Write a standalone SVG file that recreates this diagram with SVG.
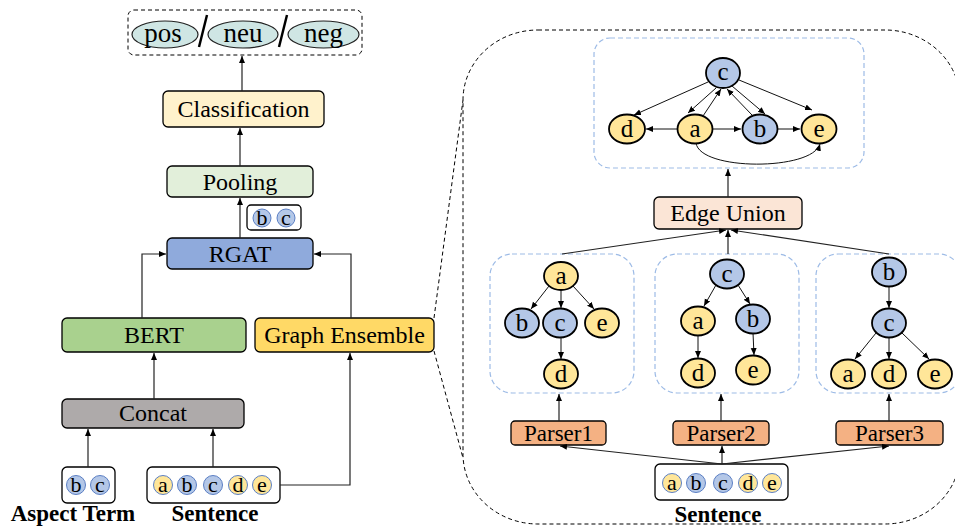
<svg xmlns="http://www.w3.org/2000/svg" width="955" height="528" viewBox="0 0 955 528">
<defs>
<marker id="ah" markerUnits="userSpaceOnUse" markerWidth="8" markerHeight="7" refX="7" refY="3" orient="auto">
<path d="M0,0 L7,3 L0,6 z" fill="#000"/>
</marker>
<style>
text{font-family:"Liberation Serif","Times New Roman",serif;fill:#000;text-anchor:middle}
.t24{font-size:24px}
.t25{font-size:25px}
.t27{font-size:27px}
.t23{font-size:23px}
.t22{font-size:22px}
.lab{font-size:23px;font-weight:bold}
.box{stroke:#000;stroke-width:1.3}
.nodeY{fill:#ffe699;stroke:#000;stroke-width:1.8}
.nodeB{fill:#b4c7e7;stroke:#000;stroke-width:1.8}
.tokY{fill:#ffe699;stroke:#5b7fc4;stroke-width:1}
.tokB{fill:#b4c7e7;stroke:#5b7fc4;stroke-width:1}
.cont{fill:none;stroke:#9dbbe6;stroke-width:1.2;stroke-dasharray:5,3}
.conn{fill:none;stroke:#222;stroke-width:1.2;marker-end:url(#ah)}
.edge{fill:none;stroke:#111;stroke-width:1;marker-end:url(#ah)}
.dash{fill:none;stroke:#000;stroke-width:1;stroke-dasharray:4,3}
</style>
</defs>

<!-- large zoom region -->
<rect x="463" y="30" width="497" height="494" rx="75" ry="70" class="dash"/>
<line x1="434" y1="318" x2="463" y2="100" class="dash"/>
<line x1="434" y1="351" x2="463" y2="458" class="dash"/>

<g id="output">
<rect x="128" y="10" width="234" height="45" rx="6" class="dash"/>
<ellipse cx="165" cy="34.5" rx="33" ry="13.5" fill="#cfe6e4" stroke="#222" stroke-width="1.2"/>
<ellipse cx="243" cy="34.5" rx="35" ry="13.5" fill="#cfe6e4" stroke="#222" stroke-width="1.2"/>
<ellipse cx="323.5" cy="34.5" rx="35.5" ry="13.5" fill="#cfe6e4" stroke="#222" stroke-width="1.2"/>
<line x1="199" y1="47" x2="207" y2="15" stroke="#000" stroke-width="2.5"/>
<line x1="279" y1="47" x2="287" y2="15" stroke="#000" stroke-width="2.5"/>
<text x="163" y="42" class="t27">pos</text>
<text x="243" y="42" class="t27">neu</text>
<text x="323.5" y="42" class="t27">neg</text>
</g>

<g id="classification">
<rect x="163" y="91" width="161" height="36" rx="5" fill="#fff2cc" class="box"/>
<text x="243.5" y="117" class="t24">Classification</text>
</g>
<g id="pooling">
<rect x="167" y="166" width="146" height="31" rx="5" fill="#e2efda" class="box"/>
<text x="240" y="190" class="t24">Pooling</text>
</g>
<g id="aspect-feat">
<rect x="247" y="205" width="54" height="25" rx="4" fill="#fff" class="box"/>
<circle cx="262" cy="218" r="9" class="tokB"/>
<circle cx="286" cy="218" r="9" class="tokB"/>
<text x="262" y="225" class="t22">b</text>
<text x="286" y="225" class="t22">c</text>
</g>
<g id="rgat">
<rect x="167" y="238" width="146" height="31" rx="5" fill="#8faadc" class="box"/>
<text x="240" y="262" class="t24">RGAT</text>
</g>
<g id="bert">
<rect x="62" y="318" width="184" height="34" rx="5" fill="#a9d18e" class="box"/>
<text x="154" y="343" class="t24">BERT</text>
</g>
<g id="graph-ensemble">
<rect x="255" y="318" width="179" height="34" rx="5" fill="#ffd966" class="box"/>
<text x="344.5" y="343" class="t24">Graph Ensemble</text>
</g>
<g id="concat">
<rect x="62" y="399" width="182" height="29" rx="5" fill="#aeaaaa" class="box"/>
<text x="153" y="421" class="t24">Concat</text>
</g>
<g id="aspect-term">
<rect x="62" y="467" width="53" height="36" rx="5" fill="#fff" class="box"/>
<circle cx="76" cy="485" r="9.5" class="tokB"/>
<circle cx="100" cy="485" r="9.5" class="tokB"/>
<text x="76" y="492" class="t22">b</text>
<text x="100" y="492" class="t22">c</text>
<text x="73" y="521" class="lab">Aspect Term</text>
</g>
<g id="sentence-left">
<rect x="147" y="467" width="133" height="36" rx="5" fill="#fff" class="box"/>
<circle cx="163" cy="485" r="9.5" class="tokY"/>
<circle cx="187" cy="485" r="9.5" class="tokB"/>
<circle cx="213" cy="485" r="9.5" class="tokB"/>
<circle cx="238" cy="485" r="9.5" class="tokY"/>
<circle cx="262" cy="485" r="9.5" class="tokY"/>
<text x="163" y="492" class="t22">a</text>
<text x="187" y="492" class="t22">b</text>
<text x="213" y="492" class="t22">c</text>
<text x="238" y="492" class="t22">d</text>
<text x="262" y="492" class="t22">e</text>
<text x="215" y="521" class="lab">Sentence</text>
</g>

<!-- right side -->
<g id="union-graph">
<rect x="594" y="38" width="270" height="130" rx="16" class="cont"/>
<ellipse cx="723" cy="73" rx="17" ry="15" class="nodeB"/>
<ellipse cx="627" cy="129" rx="18" ry="14.5" class="nodeY"/>
<ellipse cx="695" cy="129" rx="17.5" ry="14.5" class="nodeY"/>
<ellipse cx="760" cy="129" rx="17.5" ry="14.5" class="nodeB"/>
<ellipse cx="819" cy="129" rx="17.5" ry="14.5" class="nodeY"/>
<text x="723" y="80" class="t25">c</text>
<text x="627" y="137" class="t25">d</text>
<text x="695" y="137" class="t25">a</text>
<text x="760" y="137" class="t25">b</text>
<text x="819" y="137" class="t25">e</text>
</g>
<g id="edge-union">
<rect x="654" y="197" width="148" height="32" rx="5" fill="#fbe5d6" class="box"/>
<text x="728" y="221" class="t24">Edge Union</text>
</g>
<g id="tree1">
<rect x="490" y="254" width="144" height="139" rx="22" class="cont"/>
<ellipse cx="561" cy="276" rx="17" ry="14" class="nodeY"/>
<ellipse cx="522" cy="323" rx="17" ry="14.5" class="nodeB"/>
<ellipse cx="560" cy="323" rx="17" ry="14.5" class="nodeB"/>
<ellipse cx="602" cy="323" rx="17" ry="14.5" class="nodeY"/>
<ellipse cx="561" cy="374" rx="17" ry="14.5" class="nodeY"/>
<text x="561" y="284" class="t25">a</text>
<text x="522" y="331" class="t25">b</text>
<text x="560" y="331" class="t25">c</text>
<text x="602" y="331" class="t25">e</text>
<text x="561" y="382" class="t25">d</text>
</g>
<g id="tree2">
<rect x="655" y="254" width="144" height="139" rx="22" class="cont"/>
<ellipse cx="727" cy="274" rx="17" ry="14.5" class="nodeB"/>
<ellipse cx="698" cy="321" rx="17" ry="14.5" class="nodeY"/>
<ellipse cx="753" cy="319" rx="17" ry="14.5" class="nodeB"/>
<ellipse cx="698" cy="373" rx="17" ry="14.5" class="nodeY"/>
<ellipse cx="753" cy="370" rx="17" ry="14.5" class="nodeY"/>
<text x="727" y="282" class="t25">c</text>
<text x="698" y="329" class="t25">a</text>
<text x="753" y="327" class="t25">b</text>
<text x="698" y="381" class="t25">d</text>
<text x="753" y="378" class="t25">e</text>
</g>
<g id="tree3">
<rect x="816" y="254" width="145" height="139" rx="22" class="cont"/>
<ellipse cx="889" cy="272" rx="17" ry="14.5" class="nodeB"/>
<ellipse cx="889" cy="323" rx="17" ry="14.5" class="nodeB"/>
<ellipse cx="848" cy="374" rx="17" ry="14.5" class="nodeY"/>
<ellipse cx="889" cy="374" rx="17" ry="14.5" class="nodeY"/>
<ellipse cx="935" cy="374" rx="17" ry="14.5" class="nodeY"/>
<text x="889" y="280" class="t25">b</text>
<text x="889" y="331" class="t25">c</text>
<text x="848" y="382" class="t25">a</text>
<text x="889" y="382" class="t25">d</text>
<text x="935" y="382" class="t25">e</text>
</g>
<g id="parser1">
<rect x="511" y="421" width="95" height="24" rx="4" fill="#f4b183" class="box"/>
<text x="558.5" y="441" class="t23">Parser1</text>
</g>
<g id="parser2">
<rect x="673" y="421" width="96" height="24" rx="4" fill="#f4b183" class="box"/>
<text x="721" y="441" class="t23">Parser2</text>
</g>
<g id="parser3">
<rect x="836" y="421" width="107" height="24" rx="4" fill="#f4b183" class="box"/>
<text x="889.5" y="441" class="t23">Parser3</text>
</g>
<g id="sentence-right">
<rect x="655" y="464" width="133" height="36" rx="5" fill="#fff" class="box"/>
<circle cx="672" cy="483" r="9.5" class="tokY"/>
<circle cx="696" cy="483" r="9.5" class="tokB"/>
<circle cx="723" cy="483" r="9.5" class="tokB"/>
<circle cx="748" cy="483" r="9.5" class="tokY"/>
<circle cx="772" cy="483" r="9.5" class="tokY"/>
<text x="672" y="490" class="t22">a</text>
<text x="696" y="490" class="t22">b</text>
<text x="723" y="490" class="t22">c</text>
<text x="748" y="490" class="t22">d</text>
<text x="772" y="490" class="t22">e</text>
<text x="718" y="522" class="lab">Sentence</text>
</g>

<g id="connectors">
<!-- left pipeline -->
<line x1="242" y1="91" x2="242" y2="56" class="conn"/>
<line x1="240" y1="166" x2="240" y2="128" class="conn"/>
<line x1="240" y1="238" x2="240" y2="198" class="conn"/>
<polyline points="142,318 142,254 166,254" class="conn"/>
<polyline points="351,318 351,254 314,254" class="conn"/>
<line x1="154" y1="399" x2="154" y2="353" class="conn"/>
<line x1="88" y1="467" x2="88" y2="429" class="conn"/>
<line x1="213" y1="467" x2="213" y2="429" class="conn"/>
<polyline points="280,485 350,485 350,353" class="conn"/>
<!-- right pipeline -->
<line x1="722" y1="464" x2="560" y2="446" class="conn"/>
<line x1="722" y1="464" x2="722" y2="446" class="conn"/>
<line x1="722" y1="464" x2="889" y2="446" class="conn"/>
<line x1="559" y1="421" x2="559" y2="394" class="conn"/>
<line x1="721" y1="421" x2="721" y2="394" class="conn"/>
<line x1="889" y1="421" x2="889" y2="394" class="conn"/>
<line x1="562" y1="254" x2="726" y2="230" class="conn"/>
<line x1="728" y1="254" x2="728" y2="230" class="conn"/>
<line x1="889" y1="254" x2="731" y2="230" class="conn"/>
<line x1="728" y1="197" x2="728" y2="169" class="conn"/>
<!-- union graph edges -->
<line x1="708" y1="82" x2="634" y2="115" class="edge"/>
<line x1="716" y1="88" x2="688" y2="113" class="edge"/>
<line x1="703" y1="116" x2="721" y2="89" class="edge"/>
<line x1="732" y1="86" x2="765" y2="114" class="edge"/>
<line x1="752" y1="115" x2="727" y2="89" class="edge"/>
<line x1="739" y1="80" x2="812" y2="110" class="edge"/>
<line x1="677" y1="129" x2="646" y2="129" class="edge"/>
<line x1="713" y1="129" x2="741" y2="129" class="edge"/>
<line x1="778" y1="129" x2="800" y2="129" class="edge"/>
<path d="M696,143 C700,171 812,171 820,144" class="edge"/>
<!-- tree1 edges -->
<line x1="549" y1="286" x2="531" y2="309" class="edge"/>
<line x1="561" y1="290" x2="561" y2="308" class="edge"/>
<line x1="573" y1="286" x2="594" y2="309" class="edge"/>
<line x1="561" y1="337" x2="561" y2="359" class="edge"/>
<!-- tree2 edges -->
<line x1="716" y1="285" x2="704" y2="306" class="edge"/>
<line x1="738" y1="285" x2="750" y2="304" class="edge"/>
<line x1="698" y1="335" x2="698" y2="358" class="edge"/>
<line x1="753" y1="333" x2="754" y2="355" class="edge"/>
<!-- tree3 edges -->
<line x1="889" y1="287" x2="889" y2="308" class="edge"/>
<line x1="876" y1="333" x2="855" y2="359" class="edge"/>
<line x1="889" y1="338" x2="889" y2="359" class="edge"/>
<line x1="902" y1="333" x2="929" y2="359" class="edge"/>
</g>
</svg>
